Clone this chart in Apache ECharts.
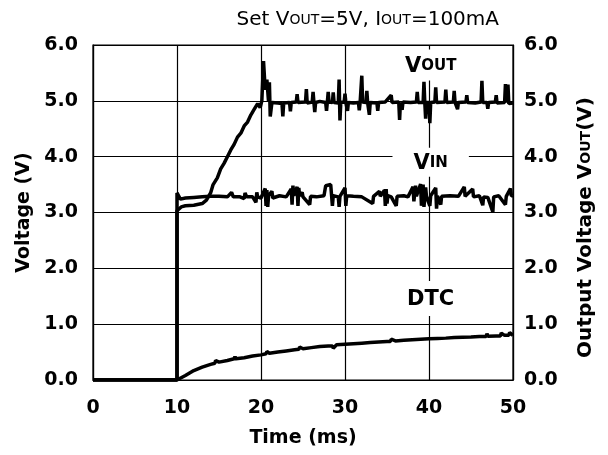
<!DOCTYPE html>
<html><head><meta charset="utf-8">
<script src="https://cdn.jsdelivr.net/npm/echarts@6/dist/echarts.min.js"></script>
<style>html,body{margin:0;padding:0;background:#fff}#c{width:608px;height:455px}</style>
</head><body><div id="c"></div>
<script>
const xTicks = [0, 10, 20, 30, 40, 50];
const yTicks = [0, 1, 2, 3, 4, 5, 6];

const vinT = [0, 10, 10, 10.4, 11, 12, 13, 14, 15, 16, 16.5, 16.7, 17.5, 18, 18.1, 18.3, 19, 19.4, 19.5, 19.6, 20, 20.5, 20.6, 20.7, 20.8, 20.9, 21.3, 21.4, 22.2, 23.0, 23.6, 23.7, 23.8, 23.9, 24.3, 24.4, 24.5, 24.6, 24.9, 25.0, 25.8, 25.9, 26.6, 27.5, 27.7, 28.3, 28.5, 28.6, 29.2, 29.3, 29.4, 30.0, 30.1, 30.2, 31.0, 32.0, 33.3, 33.4, 34.1, 34.2, 34.7, 34.8, 34.9, 35.0, 35.1, 35.5, 36.1, 36.2, 37.0, 37.5, 38.1, 38.2, 38.4, 38.5, 39.0, 39.1, 39.3, 39.4, 39.6, 39.7, 40.1, 40.2, 40.8, 40.9, 41.0, 41.4, 41.5, 42.5, 43.5, 44.2, 44.3, 45.2, 45.3, 46.0, 46.4, 46.5, 47.0, 47.6, 47.7, 48.3, 49.1, 49.2, 49.7, 49.8, 50];
const vinV = [0, 0, 3.35, 3.24, 3.26, 3.27, 3.28, 3.29, 3.29, 3.28, 3.36, 3.28, 3.28, 3.25, 3.35, 3.28, 3.28, 3.18, 3.36, 3.28, 3.26, 3.43, 3.12, 3.40, 3.10, 3.30, 3.38, 3.26, 3.30, 3.28, 3.42, 3.14, 3.48, 3.30, 3.46, 3.12, 3.44, 3.30, 3.36, 3.28, 3.14, 3.29, 3.28, 3.30, 3.48, 3.50, 3.12, 3.30, 3.28, 3.10, 3.29, 3.44, 3.12, 3.30, 3.29, 3.28, 3.16, 3.29, 3.38, 3.29, 3.40, 3.12, 3.42, 3.16, 3.30, 3.28, 3.12, 3.29, 3.30, 3.28, 3.46, 3.20, 3.48, 3.29, 3.51, 3.12, 3.50, 3.10, 3.45, 3.29, 3.12, 3.30, 3.44, 3.07, 3.30, 3.14, 3.29, 3.30, 3.29, 3.46, 3.29, 3.42, 3.28, 3.30, 3.13, 3.28, 3.27, 3.01, 3.28, 3.30, 3.14, 3.29, 3.43, 3.30, 3.30];

const voutT = [0, 10, 10, 10.5, 11, 12, 13, 13.5, 14, 14.3, 14.8, 15.2, 15.6, 16, 16.4, 16.8, 17.2, 17.6, 18, 18.4, 18.8, 19.2, 19.6, 19.9, 20.1, 20.3, 20.5, 20.7, 20.9, 21.0, 21.1, 21.3, 22.0, 22.5, 22.6, 22.7, 23.4, 23.5, 23.6, 24.2, 24.3, 24.4, 25.3, 25.4, 25.5, 26.1, 26.2, 26.3, 26.4, 26.5, 27.0, 27.7, 27.8, 27.9, 28.0, 28.1, 28.5, 28.6, 28.7, 29.2, 29.3, 29.4, 29.5, 29.9, 30.0, 30.1, 30.3, 30.4, 31.0, 31.6, 31.7, 31.8, 31.9, 32.0, 32.1, 32.5, 32.6, 32.7, 32.9, 33.0, 33.8, 33.9, 34.0, 34.8, 35.5, 35.6, 36.4, 36.5, 36.6, 36.8, 36.9, 37.8, 38.5, 38.6, 38.7, 39.3, 39.4, 39.5, 39.6, 39.7, 40.0, 40.1, 40.2, 40.7, 40.8, 40.9, 41.9, 42.0, 42.1, 42.9, 43.0, 43.1, 43.4, 43.5, 44.4, 44.5, 44.6, 45.5, 46.2, 46.3, 46.4, 46.9, 47.0, 47.1, 47.9, 48.0, 48.1, 49.0, 49.1, 49.2, 49.4, 49.5, 50];
const voutV = [0, 0, 3.03, 3.10, 3.12, 3.13, 3.16, 3.22, 3.35, 3.50, 3.62, 3.78, 3.88, 4.00, 4.12, 4.22, 4.35, 4.42, 4.55, 4.62, 4.75, 4.85, 4.95, 4.88, 5.00, 5.71, 5.20, 5.38, 4.98, 5.33, 4.72, 4.97, 4.96, 4.95, 4.72, 4.96, 4.97, 4.81, 4.97, 4.98, 5.12, 4.97, 4.98, 5.21, 4.96, 4.98, 5.16, 4.97, 4.80, 4.97, 4.99, 4.97, 4.82, 4.98, 5.16, 4.98, 4.97, 5.15, 4.97, 4.96, 5.38, 4.65, 4.97, 4.98, 5.13, 4.97, 4.82, 4.97, 4.96, 4.97, 4.83, 4.97, 4.98, 5.45, 4.98, 4.97, 5.18, 4.96, 4.75, 4.97, 4.96, 4.82, 4.97, 4.98, 5.10, 4.97, 4.98, 4.66, 4.97, 4.84, 4.98, 4.97, 4.98, 5.16, 4.97, 4.97, 5.34, 4.97, 4.68, 4.97, 4.97, 4.60, 4.97, 4.98, 5.24, 4.97, 4.98, 5.20, 4.97, 4.98, 5.18, 4.97, 4.85, 4.97, 4.98, 5.10, 4.97, 4.96, 4.98, 5.36, 4.97, 4.97, 4.86, 4.97, 4.98, 5.10, 4.96, 4.97, 5.30, 4.97, 5.29, 4.95, 4.96];

const dtcT = [0, 10, 11, 12, 13, 14, 14.5, 14.6, 15, 16, 16.8, 16.9, 17, 18, 19, 20, 20.6, 20.7, 21, 22, 23, 24, 24.5, 24.6, 25, 26, 27, 28, 28.5, 28.6, 29, 30, 31, 32, 33, 34, 35, 35.4, 35.5, 36, 37, 38, 39, 40, 41, 42, 43, 44, 45, 46, 46.8, 46.9, 47, 48, 48.5, 48.6, 49, 49.5, 49.6, 50];
const dtcV = [0, 0, 0.08, 0.17, 0.23, 0.28, 0.30, 0.35, 0.32, 0.35, 0.38, 0.42, 0.38, 0.40, 0.43, 0.45, 0.47, 0.51, 0.48, 0.50, 0.52, 0.54, 0.55, 0.59, 0.56, 0.58, 0.60, 0.61, 0.61, 0.57, 0.63, 0.64, 0.65, 0.66, 0.67, 0.68, 0.69, 0.69, 0.73, 0.70, 0.71, 0.72, 0.73, 0.74, 0.745, 0.75, 0.76, 0.765, 0.77, 0.78, 0.78, 0.83, 0.785, 0.79, 0.79, 0.84, 0.80, 0.80, 0.85, 0.80];

const labelNames = ['VOUT', 'VIN', 'DTC'];
const labelX = [40.2, 40.2, 40.2];
const labelY = [5.64, 3.9, 1.46];

const zip = (t, v) => t.map((x, i) => [x, v[i]]);
const FONT = '"DejaVu Sans", sans-serif';

const chart = echarts.init(document.getElementById('c'), null, {renderer: 'canvas'});
const lineSeries = (name, t, v) => ({
  name, type: 'line', data: zip(t, v), showSymbol: false, symbol: 'none',
  lineStyle: {color: '#000', width: 3.5}, z: 3, animation: false
});
const richStyle = {
  big: {fontFamily: FONT, fontWeight: 'bold', fontSize: 21, color: '#000'},
  sub: {fontFamily: FONT, fontWeight: 'bold', fontSize: 15, color: '#000'}
};
const labelFmt = n => n === 'VOUT' ? '{big|V}{sub|OUT}' : n === 'VIN' ? '{big|V}{sub|IN}' : '{big|' + n + '}';
const labelPad = {VOUT: [6, 6, 4, 6], VIN: [5, 21, 3, 21], DTC: [8, 4, 6, 4]};
const axisFont = {fontFamily: FONT, fontWeight: 'bold', fontSize: 19, color: '#000'};

chart.setOption({
  animation: false,
  backgroundColor: '#fff',
  title: {
    text: '{a|Set V}{b|OUT}{a|=5V, I}{b|OUT}{a|=100mA}',
    right: 104, top: 5,
    textStyle: {rich: {
      a: {fontFamily: FONT, fontWeight: 'normal', fontSize: 20, color: '#000'},
      b: {fontFamily: FONT, fontWeight: 'normal', fontSize: 14, color: '#000'}
    }}
  },
  grid: {left: 93, right: 95, top: 45, bottom: 75, show: true, borderColor: '#000', borderWidth: 1.2, backgroundColor: 'transparent'},
  xAxis: {
    type: 'value', min: xTicks[0], max: xTicks[xTicks.length - 1], interval: 10,
    name: 'Time (ms)', nameLocation: 'middle', nameGap: 49,
    nameTextStyle: axisFont,
    axisLine: {show: true, lineStyle: {color: '#000', width: 1.2}},
    axisTick: {show: false},
    axisLabel: Object.assign({margin: 19}, axisFont),
    splitLine: {show: true, lineStyle: {color: '#000', width: 1.2}}
  },
  yAxis: [{
    type: 'value', min: yTicks[0], max: yTicks[yTicks.length - 1], interval: 1, position: 'left',
    name: 'Voltage (V)', nameLocation: 'middle', nameGap: 59, nameRotate: 90,
    nameTextStyle: axisFont,
    axisLine: {show: true, lineStyle: {color: '#000', width: 1.2}},
    axisTick: {show: false},
    axisLabel: Object.assign({margin: 15, formatter: v => v.toFixed(1)}, axisFont),
    splitLine: {show: true, lineStyle: {color: '#000', width: 1.2}}
  }, {
    type: 'value', min: yTicks[0], max: yTicks[yTicks.length - 1], interval: 1, position: 'right',
    name: '{a|Output Voltage V}{b|OUT}{a|(V)}', nameLocation: 'middle', nameGap: 63, nameRotate: 90,
    nameTextStyle: {padding: [0, 30, 0, 0], rich: {
      a: {fontFamily: FONT, fontWeight: 'bold', fontSize: 20, color: '#000'},
      b: {fontFamily: FONT, fontWeight: 'bold', fontSize: 14, color: '#000'}
    }},
    axisLine: {show: true, lineStyle: {color: '#000', width: 1.2}},
    axisTick: {show: false},
    axisLabel: Object.assign({margin: 11, formatter: v => v.toFixed(1)}, axisFont),
    splitLine: {show: false}
  }],
  series: [
    lineSeries('DTC', dtcT, dtcV),
    lineSeries('VIN', vinT, vinV),
    lineSeries('VOUT', voutT, voutV),
    {
      type: 'scatter', symbolSize: 0, z: 5, animation: false, silent: true,
      itemStyle: {opacity: 1, color: '#000'},
      data: labelNames.map((n, i) => ({name: n, value: [labelX[i], labelY[i]],
        label: {padding: labelPad[n]}})),
      label: {
        show: true, position: 'inside', color: '#000', opacity: 1,
        formatter: p => labelFmt(p.name),
        backgroundColor: '#fff',
        rich: richStyle
      },
      emphasis: {disabled: true}
    }
  ]
});
</script></body></html>
